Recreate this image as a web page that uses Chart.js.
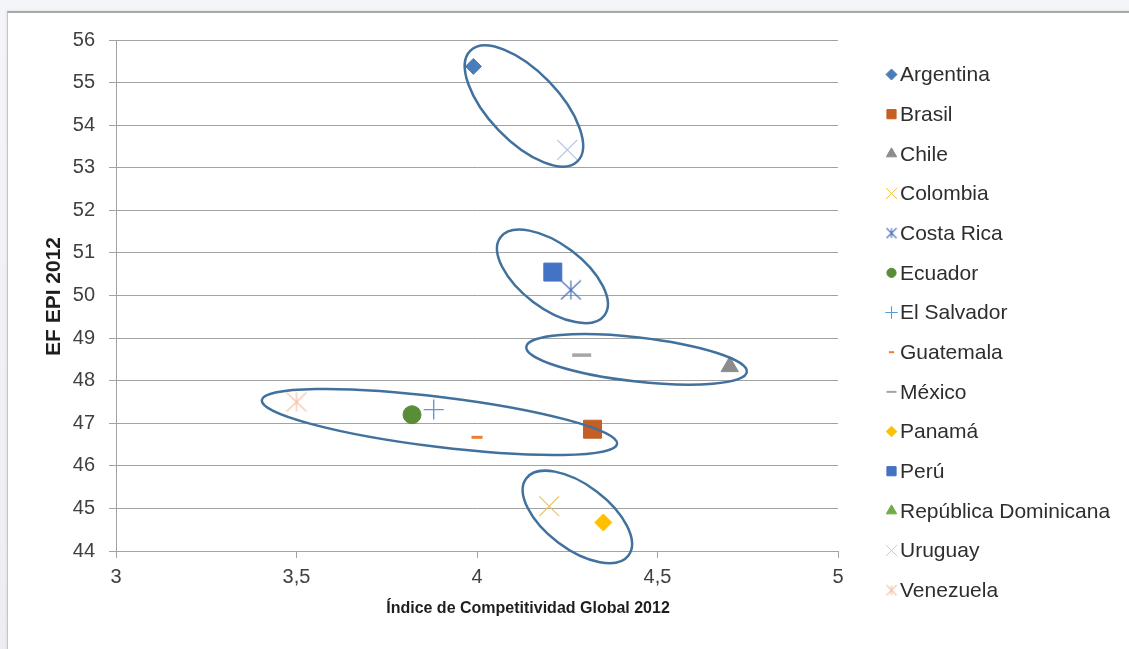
<!DOCTYPE html>
<html>
<head>
<meta charset="utf-8">
<script src="https://cdn.jsdelivr.net/npm/chart.js@4.4.1/dist/chart.umd.min.js"></script>
<style>
  html, body { margin: 0; padding: 0; width: 1129px; height: 649px; overflow: hidden;
    background: linear-gradient(180deg, #f4f5f9 0%, #eceef3 100%); }
  #frame { position: absolute; left: 7px; top: 11px; width: 1140px; height: 660px; background: #fff;
    border-top: 2px solid #a8a8a8; border-left: 1px solid #c4c4c4; box-shadow: -1px -1px 2px rgba(0,0,0,0.06); }
  #wrap { position: absolute; left: 0; top: 0; width: 1129px; height: 649px; }
</style>
</head>
<body>
<div id="frame"></div>
<div id="wrap"><canvas id="chart" width="1129" height="649"></canvas></div>
<script>
// ---- Data ----
const countries = ['Argentina', 'Brasil', 'Chile', 'Colombia', 'Costa Rica', 'Ecuador', 'El Salvador',
  'Guatemala', 'México', 'Panamá', 'Perú', 'República Dominicana', 'Uruguay', 'Venezuela'];
// Índice de Competitividad Global 2012
const icg2012 = [3.99, 4.32, 4.70, 4.20, 4.26, 3.82, 3.88, 4.00, 4.29, 4.35, 4.21, null, 4.25, 3.50];
// EF EPI 2012
const epi2012 = [55.38, 46.86, 48.33, 45.05, 50.13, 47.20, 47.32, 46.67, 48.60, 44.67, 50.55, null, 53.42, 47.50];

const xTickValues = [3, 3.5, 4, 4.5, 5];
const yTickValues = [44, 45, 46, 47, 48, 49, 50, 51, 52, 53, 54, 55, 56];
const xTitle = 'Índice de Competitividad Global 2012';
const yTitle = 'EF EPI 2012';

// ---- Marker styling per country ----
function asterisk(w, h, color, lw) {
  const c = document.createElement('canvas');
  c.width = w; c.height = h;
  const g = c.getContext('2d');
  g.strokeStyle = color; g.lineWidth = lw;
  const p = 1;
  g.beginPath();
  g.moveTo(w / 2, p); g.lineTo(w / 2, h - p);
  g.moveTo(p, p); g.lineTo(w - p, h - p);
  g.moveTo(w - p, p); g.lineTo(p, h - p);
  g.stroke();
  return c;
}

const markerColors = ['#4a7ebb', '#c65f24', '#8c8c8c', '#f0c350', '#4d6fb8', '#5a8d38', '#5b9bd5',
  '#ed7d31', '#a5a5a5', '#ffc000', '#4472c4', '#70ad47', '#b8cbe9', '#f6c2a6'];
const markerShapes = ['rectRot', 'rect', 'triangle', 'crossRot', asterisk(22, 21, '#4d6fb8', 1.2), 'circle',
  'cross', 'line', 'line', 'rectRot', 'rect', 'triangle', 'crossRot', asterisk(22, 21, '#f6c2a6', 1.2)];
const markerRadius = [8, 12.7, 10, 14, 11, 9, 10, 5.5, 9.5, 8.5, 12.7, 10, 14, 11];
const markerLine = [1, 1, 1, 1.2, 1, 1, 1.4, 3, 3.5, 1, 1, 1, 1.2, 1];

const legendShapes = ['rectRot', 'rect', 'triangle', 'crossRot', asterisk(12, 12, '#4d6fb8', 1.1), 'circle',
  'cross', 'line', 'line', 'rectRot', 'rect', 'triangle', 'crossRot', asterisk(12, 12, '#f6c2a6', 1.1)];
const legendRadius = [5.5, 6.5, 6, 8, 6, 4.6, 6.2, 2.6, 5, 5.3, 6.5, 6, 8, 6];
const legendLine = [1, 1, 1, 1, 1, 1, 1.1, 2, 2, 1, 1, 1, 1, 1];

// Outlines grouping countries (centre in axis units, radii in px, tilt in degrees)
const groupOutlines = [
  { cx: 4.130, cy: 54.45, rx: 77, ry: 35, tilt: 46 },
  { cx: 4.209, cy: 50.45, rx: 65, ry: 32, tilt: 37 },
  { cx: 4.442, cy: 48.50, rx: 111, ry: 22, tilt: 6.5 },
  { cx: 3.896, cy: 47.03, rx: 179, ry: 25, tilt: 7 },
  { cx: 4.278, cy: 44.80, rx: 64, ry: 32, tilt: 37 }
];

const GRID = '#a3a3a3';
const FONT = '"Liberation Sans", Arial, sans-serif';

const datasets = countries.map((name, i) => ({
  label: name,
  data: icg2012[i] == null ? [] : [{ x: icg2012[i], y: epi2012[i] }],
  showLine: false,
  pointStyle: markerShapes[i],
  pointRadius: markerRadius[i],
  pointHoverRadius: markerRadius[i],
  backgroundColor: markerColors[i],
  borderColor: markerColors[i],
  pointBorderWidth: markerLine[i]
}));

// Outline ellipses drawn over the markers
const outlinePlugin = {
  id: 'groupOutlines',
  afterDatasetsDraw(chart) {
    const { ctx, scales: { x, y } } = chart;
    ctx.save();
    ctx.strokeStyle = '#41719c';
    ctx.lineWidth = 2.5;
    groupOutlines.forEach(o => {
      ctx.beginPath();
      ctx.ellipse(x.getPixelForValue(o.cx), y.getPixelForValue(o.cy), o.rx, o.ry,
        o.tilt * Math.PI / 180, 0, Math.PI * 2);
      ctx.stroke();
    });
    ctx.restore();
  }
};

// Axis captions and the side legend
const captionPlugin = {
  id: 'captions',
  afterDraw(chart) {
    const { ctx, chartArea: a } = chart;
    ctx.save();
    ctx.fillStyle = '#1e1e1e';
    ctx.textAlign = 'center';
    ctx.textBaseline = 'middle';
    ctx.font = 'bold 16px ' + FONT;
    ctx.fillText(xTitle, 528, a.bottom + 58);
    ctx.translate(54, (a.top + a.bottom) / 2 + 1);
    ctx.rotate(-Math.PI / 2);
    ctx.font = 'bold 21px ' + FONT;
    ctx.fillText(yTitle, 0, 0);
    ctx.restore();

    ctx.save();
    ctx.font = '21px ' + FONT;
    ctx.textAlign = 'left';
    ctx.textBaseline = 'middle';
    countries.forEach((name, i) => {
      const yy = 74.5 + i * 39.67;
      ctx.fillStyle = markerColors[i];
      ctx.strokeStyle = markerColors[i];
      ctx.lineWidth = legendLine[i];
      Chart.helpers.drawPoint(ctx, { pointStyle: legendShapes[i], radius: legendRadius[i],
        borderWidth: legendLine[i], rotation: 0 }, 891.5, yy);
      ctx.fillStyle = '#2e2e2e';
      ctx.fillText(name, 900, yy + 1);
    });
    ctx.restore();
  }
};

new Chart(document.getElementById('chart'), {
  type: 'scatter',
  data: { datasets },
  options: {
    responsive: false,
    devicePixelRatio: 1,
    animation: false,
    layout: { padding: { left: 0, top: 40, right: 291, bottom: 0 } },
    plugins: { legend: { display: false }, tooltip: { enabled: false } },
    scales: {
      x: {
        type: 'linear',
        min: xTickValues[0],
        max: xTickValues[xTickValues.length - 1],
        afterBuildTicks: s => { s.ticks = xTickValues.map(v => ({ value: v })); },
        afterFit: s => { s.height = 98; },
        grid: { drawOnChartArea: false, drawTicks: true, tickLength: 7, color: GRID },
        border: { display: true, color: GRID, width: 1 },
        ticks: {
          padding: 7,
          color: '#404040',
          font: { family: FONT, size: 20 },
          callback: v => String(v).replace('.', ',')
        }
      },
      y: {
        type: 'linear',
        min: yTickValues[0],
        max: yTickValues[yTickValues.length - 1],
        afterBuildTicks: s => { s.ticks = yTickValues.map(v => ({ value: v })); },
        afterFit: s => { s.width = 116; },
        grid: { drawOnChartArea: true, drawTicks: true, tickLength: 7, color: GRID },
        border: { display: true, color: GRID, width: 1 },
        ticks: {
          padding: 14,
          color: '#404040',
          font: { family: FONT, size: 20 },
          callback: v => String(v)
        }
      }
    }
  },
  plugins: [outlinePlugin, captionPlugin]
});
</script>
</body>
</html>
